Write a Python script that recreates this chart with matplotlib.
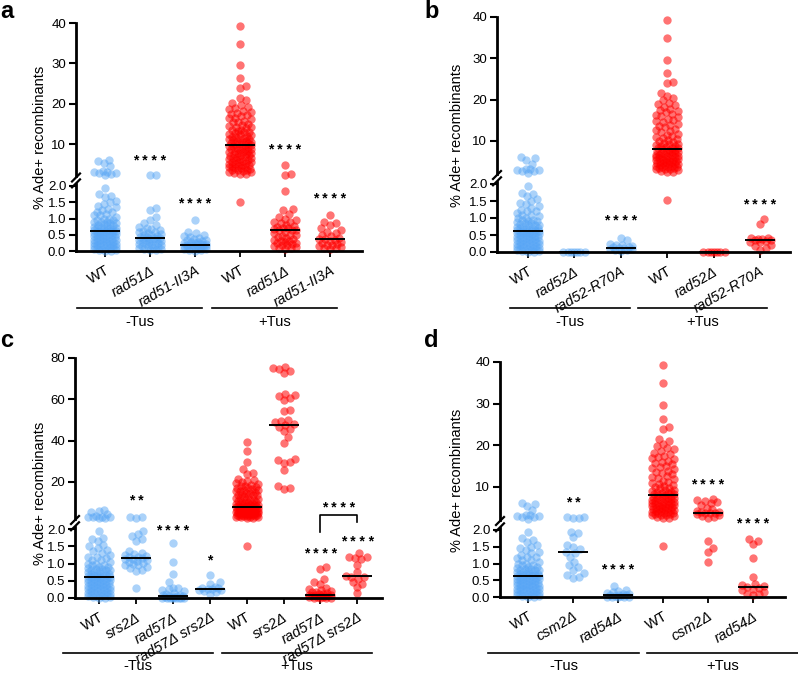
import numpy as np
import matplotlib
matplotlib.use("Agg")
import matplotlib.pyplot as plt
from matplotlib.lines import Line2D

plt.rcParams["font.family"] = ["Liberation Sans", "DejaVu Sans"]

W, H = 798, 673
BLUE = "#58a6f5"
RED = "#ff0000"

# ---------------- data: % Ade+ recombinants ----------------
wt_minus = [6.2, 5.8, 5.3, 4.5, 3.3, 3.1, 3.0, 2.9, 2.8, 2.7, 2.3,
            1.95, 1.75, 1.7, 1.65, 1.55, 1.5, 1.45, 1.4, 1.35, 1.3,
            1.25, 1.2, 1.2, 1.15, 1.1, 1.1, 1.05, 1.0, 1.0, 0.95,
            0.95, 0.9, 0.9, 0.88, 0.85, 0.85, 0.82, 0.8, 0.8, 0.78,
            0.75, 0.75, 0.72, 0.7, 0.7, 0.68, 0.66, 0.65, 0.64, 0.63,
            0.62, 0.62, 0.6, 0.6, 0.58, 0.57, 0.55, 0.55, 0.53, 0.52,
            0.5, 0.5, 0.48, 0.47, 0.45, 0.45, 0.43, 0.42, 0.4, 0.4,
            0.38, 0.37, 0.35, 0.35, 0.33, 0.32, 0.3, 0.3, 0.28, 0.27,
            0.25, 0.25, 0.23, 0.22, 0.2, 0.2, 0.18, 0.17, 0.15, 0.15,
            0.13, 0.12, 0.1, 0.1, 0.08, 0.07, 0.05, 0.05, 0.03, 0.02, 0.0, 0.0]

wt_plus_a = [39.3, 34.9, 29.7, 26.4, 24.3, 24.0, 21.5, 20.9, 20.3, 19.8, 19.2, 19.0,
             18.7, 18.2, 18.0, 17.8, 17.4, 17.2, 17.0, 16.6, 16.4, 16.2, 15.8, 15.6,
             15.4, 15.0, 14.8, 14.6, 14.3, 14.2, 14.0, 13.6, 13.5, 13.3, 13.1, 13.0,
             12.7, 12.6, 12.4, 12.2, 12.1, 11.8, 11.7, 11.6, 11.4, 11.3, 11.2, 11.0,
             10.9, 10.8, 10.6, 10.5, 10.4, 10.2, 10.1, 10.0, 9.9,
             9.7, 9.6, 9.5, 9.3, 9.2, 9.1, 8.9, 8.8, 8.7, 8.5, 8.4, 8.3, 8.1, 8.0,
             7.9, 7.7, 7.6, 7.5, 7.3, 7.2, 7.1, 6.9, 6.8, 6.7, 6.5, 6.4, 6.3, 6.1,
             6.0, 5.9, 5.7, 5.6, 5.5, 5.3, 5.2, 5.1, 4.9, 4.8, 4.7, 4.5, 4.4, 4.3,
             4.1, 4.0, 3.9, 3.7, 3.6, 3.5, 3.3, 3.2, 3.1, 2.9, 2.7, 2.5, 1.52]

wt_plus = [39.3, 34.9, 29.7, 26.4, 24.3, 24.0, 21.5, 20.9, 20.3, 19.8, 19.2, 19.0,
           18.7, 18.2, 17.8, 17.4, 17.2, 17.0, 16.6, 16.2, 16.0, 15.8, 15.4, 15.0,
           14.8, 14.6, 14.2, 13.8, 13.6, 13.4, 13.0, 12.6, 12.4, 12.2, 11.8, 11.4,
           11.2, 11.0, 10.6, 10.4, 10.2, 9.9, 9.8, 9.6, 9.3, 9.2, 9.0, 8.8, 8.7,
           8.6, 8.4, 8.3, 8.2,
           8.0, 7.9, 7.8, 7.6, 7.5, 7.4, 7.3, 7.2, 7.1, 7.0, 6.8, 6.7, 6.6, 6.5,
           6.4, 6.3, 6.2, 6.1, 6.0, 5.9, 5.8, 5.7, 5.6, 5.5, 5.4, 5.3, 5.2, 5.1,
           5.0, 4.9, 4.8, 4.7, 4.6, 4.5, 4.4, 4.3, 4.2, 4.1, 4.0, 3.9, 3.8, 3.7,
           3.6, 3.5, 3.4, 3.3, 3.2, 3.1, 3.0, 2.8, 2.6, 2.4, 1.52]

# panel a
rad51_minus = [2.4, 2.3, 1.32, 1.25, 1.05, 0.95, 0.85, 0.8, 0.75, 0.7, 0.68, 0.65,
               0.62, 0.6, 0.58, 0.55, 0.52, 0.5, 0.48, 0.46, 0.44, 0.42, 0.41, 0.4,
               0.39, 0.38, 0.36, 0.35, 0.33, 0.32, 0.3, 0.28, 0.27, 0.25, 0.23, 0.22,
               0.2, 0.18, 0.17, 0.15, 0.13, 0.12, 0.1, 0.08, 0.06, 0.05, 0.03, 0.02]
rad51ii3a_minus = [0.95, 0.6, 0.55, 0.5, 0.45, 0.42, 0.4, 0.38, 0.35, 0.33, 0.3, 0.28,
                   0.27, 0.25, 0.24, 0.22, 0.21, 0.2, 0.2, 0.19, 0.18, 0.17, 0.15, 0.14,
                   0.13, 0.12, 0.1, 0.1, 0.08, 0.07, 0.05, 0.05, 0.03, 0.02, 0.0]
rad51_plus = [4.8, 2.5, 2.4, 1.85, 1.3, 1.25, 1.15, 1.05, 1.0, 0.95, 0.9, 0.88, 0.85,
              0.8, 0.78, 0.75, 0.72, 0.7, 0.68, 0.66, 0.65, 0.64, 0.6, 0.55, 0.5, 0.48,
              0.45, 0.42, 0.4, 0.38, 0.35, 0.32, 0.3, 0.28, 0.26, 0.25, 0.22, 0.2, 0.18,
              0.15, 0.12, 0.1, 0.08, 0.05]
rad51ii3a_plus = [1.1, 0.9, 0.85, 0.8, 0.7, 0.65, 0.6, 0.55, 0.5, 0.45, 0.4, 0.38, 0.37,
                  0.35, 0.3, 0.28, 0.25, 0.22, 0.2, 0.18, 0.15, 0.12, 0.1, 0.08, 0.05]

# panel b
rad52_minus = [0.0, 0.0, 0.0, 0.0, 0.0, 0.0, 0.0]
rad52r70a_minus = [0.42, 0.35, 0.25, 0.22, 0.2, 0.18, 0.15, 0.14, 0.13, 0.12, 0.1,
                   0.08, 0.06, 0.05, 0.03]
rad52_plus = [0.0, 0.0, 0.0, 0.0, 0.0, 0.0, 0.0]
rad52r70a_plus = [0.97, 0.82, 0.42, 0.4, 0.38, 0.37, 0.36, 0.35, 0.33, 0.3, 0.28,
                  0.22, 0.18, 0.12, 0.06]

# panel c
srs2_minus = [3.0, 2.8, 2.6, 1.95, 1.85, 1.8, 1.72, 1.65, 1.35, 1.3, 1.28, 1.25, 1.22,
              1.2, 1.18, 1.16, 1.14, 1.12, 1.1, 1.08, 1.05, 1.02, 1.0, 0.97, 0.95,
              0.9, 0.87, 0.82, 0.78, 0.3]
rad57_minus = [1.58, 1.05, 0.7, 0.45, 0.3, 0.28, 0.25, 0.22, 0.2, 0.15, 0.12, 0.1, 0.08,
               0.06, 0.05, 0.05, 0.04, 0.03, 0.02, 0.01, 0.0, 0.0, 0.0, 0.0, 0.0, 0.0, 0.0]
rad57srs2_minus = [0.66, 0.45, 0.4, 0.32, 0.3, 0.28, 0.26, 0.25, 0.24, 0.22, 0.2, 0.18, 0.12]
srs2_plus = [75.8, 75.0, 74.5, 73.8, 72.5, 62.8, 62.2, 61.5, 60.5, 59.8, 55.0, 54.5,
             50.2, 49.5, 48.8, 48.0, 47.5, 46.5, 45.5, 44.5, 41.5, 39.0, 31.2, 30.5,
             29.8, 29.2, 25.8, 17.8, 17.2, 16.5]
rad57_plus = [0.9, 0.85, 0.55, 0.45, 0.42, 0.3, 0.25, 0.22, 0.2, 0.18, 0.16, 0.14, 0.12,
              0.11, 0.1, 0.09, 0.08, 0.07, 0.06, 0.05, 0.05, 0.04, 0.03, 0.02, 0.01,
              0.0, 0.0, 0.0]
rad57srs2_plus = [1.3, 1.2, 1.18, 1.16, 1.12, 0.97, 0.75, 0.64, 0.62, 0.6, 0.55, 0.45,
                  0.42, 0.32, 0.14]

# panel d
csm2_minus = [2.7, 2.65, 2.6, 2.55, 1.95, 1.9, 1.78, 1.55, 1.48, 1.42, 1.35, 1.3, 1.2,
              1.05, 0.95, 0.9, 0.8, 0.72, 0.65, 0.6, 0.58]
rad54_minus = [0.33, 0.2, 0.18, 0.15, 0.12, 0.1, 0.08, 0.06, 0.05, 0.05, 0.04, 0.02,
               0.0, 0.0, 0.0, 0.0, 0.0]
csm2_plus = [7.1, 6.8, 6.6, 6.4, 6.1, 5.6, 5.0, 4.6, 4.2, 4.0, 3.9, 3.8, 3.7, 3.6, 3.4,
             3.2, 3.0, 2.7, 2.4, 1.68, 1.45, 1.35, 1.05]
rad54_plus = [1.72, 1.68, 1.58, 1.15, 0.6, 0.4, 0.35, 0.33, 0.3, 0.28, 0.25, 0.2, 0.15,
              0.1, 0.08, 0.05]

labels_a = ["WT", "rad51Δ", "rad51-II3A", "WT", "rad51Δ", "rad51-II3A"]
labels_b = ["WT", "rad52Δ", "rad52-R70A", "WT", "rad52Δ", "rad52-R70A"]
labels_c = ["WT", "srs2Δ", "rad57Δ", "rad57Δ srs2Δ", "WT", "srs2Δ", "rad57Δ", "rad57Δ srs2Δ"]
labels_d = ["WT", "csm2Δ", "rad54Δ", "WT", "csm2Δ", "rad54Δ"]

medians_a = [0.62, 0.4, 0.2, 9.8, 0.65, 0.37]
medians_b = [0.62, 0.0, 0.13, 8.1, 0.0, 0.35]
medians_c = [0.62, 1.15, 0.05, 0.25, 7.9, 47.6, 0.1, 0.64]
medians_d = [0.62, 1.33, 0.05, 8.1, 3.8, 0.3]

stars_a = ["", "****", "****", "", "****", "****"]
stars_b = ["", "", "****", "", "", "****"]
stars_c = ["", "**", "****", "*", "****", "", "****", "****"]
stars_d = ["", "**", "****", "", "****", "****"]

# ---------------- layout (pixel geometry measured on the reference) ----------------
panels = [
    dict(letter="a", lx=0, ly=18, x0=76, x1=362, c0=105, dc=45,
         up=(40, 23, 176.5), lo=(251, 186), yt_up=[10, 20, 30, 40], ylab=(40, 137),
         tus_y=308, tus=((77, 202), (212, 337)), tus_txt=322,
         star_pos=[None, ("u", 6.8), ("l", 1.55), None, ("u", 9.5), ("l", 1.7)],
         labels=labels_a, groups=[wt_minus, rad51_minus, rad51ii3a_minus,
                                  wt_plus_a, rad51_plus, rad51ii3a_plus],
         medians=medians_a, stars=stars_a),
    dict(letter="b", lx=424, ly=18, x0=497, x1=790, c0=528, dc=46.4,
         up=(40, 17, 174), lo=(252, 184), yt_up=[10, 20, 30, 40], ylab=(457, 135),
         tus_y=308, tus=((510, 630), (638, 767)), tus_txt=322,
         star_pos=[None, None, ("l", 1.03), None, None, ("l", 1.5)],
         labels=labels_b, groups=[wt_minus, rad52_minus, rad52r70a_minus,
                                  wt_plus, rad52_plus, rad52r70a_plus],
         medians=medians_b, stars=stars_b),
    dict(letter="c", lx=0, ly=347, x0=75, x1=382, c0=99, dc=36.9,
         up=(80, 358, 519), lo=(598, 529), yt_up=[20, 40, 60, 80], ylab=(40, 493),
         tus_y=653, tus=((63, 213), (222, 372)), tus_txt=670,
         star_pos=[None, ("u", 12.3), ("l", 2.06), ("l", 1.19), None, ("u", 84.8),
                   ("l", 1.39), ("l", 1.74)],
         labels=labels_c, groups=[wt_minus, srs2_minus, rad57_minus, rad57srs2_minus,
                                  wt_plus, srs2_plus, rad57_plus, rad57srs2_plus],
         medians=medians_c, stars=stars_c),
    dict(letter="d", lx=424, ly=347, x0=500, x1=785, c0=528, dc=45,
         up=(40, 362, 520), lo=(597, 530), yt_up=[10, 20, 30, 40], ylab=(457, 480),
         tus_y=653, tus=((488, 639), (647, 798)), tus_txt=670,
         star_pos=[None, ("u", 7.0), ("l", 0.9), None, ("u", 11.2), ("l", 2.3)],
         labels=labels_d, groups=[wt_minus, csm2_minus, rad54_minus,
                                  wt_plus, csm2_plus, rad54_plus],
         medians=medians_d, stars=stars_d),
]

DIAM = 8.0      # marker diameter, px
HALF_W = 11.0   # max swarm half width, px
LO_TOP = 2.05


def fx(x):
    return x / W


def fy(y):
    return 1 - y / H


def swarm(ypix, diam=DIAM, max_half=HALF_W, frac=0.75):
    """Greedy beeswarm offsets (px) for points at ypix."""
    cands = [0.0]
    k = 1
    while k <= max_half:
        cands += [float(k), float(-k)]
        k += 1
    cands = np.array(cands)
    dmin = diam * frac
    px, py = [], []
    offs = np.zeros(len(ypix))
    for i in np.argsort(ypix):
        y = ypix[i]
        if px:
            dx = cands[:, None] - np.array(px)[None, :]
            dy = y - np.array(py)[None, :]
            d = np.sqrt(dx ** 2 + dy ** 2).min(axis=1)
            ok = np.nonzero(d >= dmin)[0]
            j = ok[0] if len(ok) else int(np.argmax(d))
        else:
            j = 0
        offs[i] = cands[j]
        px.append(cands[j])
        py.append(y)
    return offs


def slash(fig, x, y):
    fig.add_artist(Line2D([fx(x - 4), fx(x + 4)], [fy(y + 4), fy(y - 4)],
                          transform=fig.transFigure, color="black", lw=1.6))


def stars_text(ax, x, y, s):
    # spaced asterisks, glyph centred on y
    ax.annotate(" ".join(s), (x, y), xytext=(0, -5.5), textcoords="offset points",
                ha="center", va="baseline", fontsize=10, fontweight="bold",
                annotation_clip=False)


fig = plt.figure(figsize=(W / 100, H / 100), dpi=100)

for p in panels:
    n = len(p["labels"])
    ymax, py_top, py_2 = p["up"]
    py0, py2 = p["lo"]
    lo_top = py0 - LO_TOP * (py0 - py2) / 2
    left, width = fx(p["x0"]), (p["x1"] - p["x0"]) / W
    xlim = (-(p["c0"] - p["x0"]) / p["dc"], (p["x1"] - p["c0"]) / p["dc"])

    axu = fig.add_axes([left, fy(py_2), width, (py_2 - py_top) / H])
    axl = fig.add_axes([left, fy(py0), width, (py0 - lo_top) / H])
    axu.set_ylim(2, ymax)
    axl.set_ylim(0, LO_TOP)
    for ax in (axu, axl):
        ax.set_xlim(*xlim)
        ax.patch.set_visible(False)
        for s in ("top", "right"):
            ax.spines[s].set_visible(False)
        ax.spines["left"].set_linewidth(2.0)
        ax.tick_params(axis="y", direction="out", length=5, width=1.5, labelsize=9.5, pad=2)
    axu.spines["bottom"].set_visible(False)
    axu.set_xticks([])
    axu.set_yticks(p["yt_up"])
    axl.set_yticks([0, 0.5, 1.0, 1.5, 2.0])
    axl.set_yticklabels(["0.0", "0.5", "1.0", "1.5", "2.0"])
    axl.spines["bottom"].set_linewidth(2.0)
    axl.set_xticks(range(n))
    axl.tick_params(axis="x", direction="out", length=4, width=1.3, pad=5)
    axl.set_xticklabels(p["labels"], rotation=30, ha="right", rotation_mode="anchor",
                        fontsize=10.5)
    for t, lab in zip(axl.get_xticklabels(), p["labels"]):
        if lab != "WT":
            t.set_fontstyle("italic")

    for i, vals in enumerate(p["groups"]):
        col = BLUE if i < n // 2 else RED
        alpha = 0.5 if i < n // 2 else 0.55
        v = np.asarray(vals, dtype=float)
        ypix = np.where(v > 2,
                        axu.transData.transform(np.c_[np.zeros_like(v), np.clip(v, 2, None)])[:, 1],
                        axl.transData.transform(np.c_[np.zeros_like(v), np.clip(v, None, 2)])[:, 1])
        xo = i + swarm(ypix) / p["dc"]
        up = v > 2
        axu.scatter(xo[up], v[up], s=36, color=col, alpha=alpha, lw=0, clip_on=False, zorder=2)
        axl.scatter(xo[~up], v[~up], s=36, color=col, alpha=alpha, lw=0, clip_on=False, zorder=2)
        m = p["medians"][i]
        hw = 15 / p["dc"]
        (axu if m > 2 else axl).plot([i - hw, i + hw], [m, m], color="black", lw=1.4,
                                     zorder=4, solid_capstyle="butt")

        sp = p["star_pos"][i]
        if sp is not None and p["stars"][i]:
            stars_text(axu if sp[0] == "u" else axl, i, sp[1], p["stars"][i])

    # axis break marks
    slash(fig, p["x0"], py_2 + 1)
    slash(fig, p["x0"], lo_top - 1)

    fig.text(fx(p["ylab"][0]), fy(p["ylab"][1]), "% Ade+ recombinants", rotation=90,
             ha="center", va="center", fontsize=10.5)
    fig.text(fx(p["lx"]), fy(p["ly"]), p["letter"], fontsize=17, fontweight="bold",
             ha="left", va="baseline")

    for (a, b), txt in zip(p["tus"], ["-Tus", "+Tus"]):
        fig.add_artist(Line2D([fx(a), fx(b)], [fy(p["tus_y"])] * 2,
                              transform=fig.transFigure, color="black", lw=1.2))
        fig.text(fx((a + b) / 2), fy(p["tus_txt"]), txt, ha="center",
                 va="center" if p["tus_txt"] < 400 else "baseline", fontsize=10.5)

    # comparison bracket in panel c
    if p["letter"] == "c":
        xl, xr = 6, 7
        top = 20 - (515 - 482) / 2.067
        yl = 20 - (532 - 482) / 2.067
        yr = 20 - (522 - 482) / 2.067
        axu.plot([xl, xl, xr, xr], [yl, top, top, yr], color="black", lw=1.2,
                 clip_on=False)
        stars_text(axu, (xl + xr) / 2, 20 - (505 - 482) / 2.067, "****")

fig.savefig("out.png", dpi=100)
